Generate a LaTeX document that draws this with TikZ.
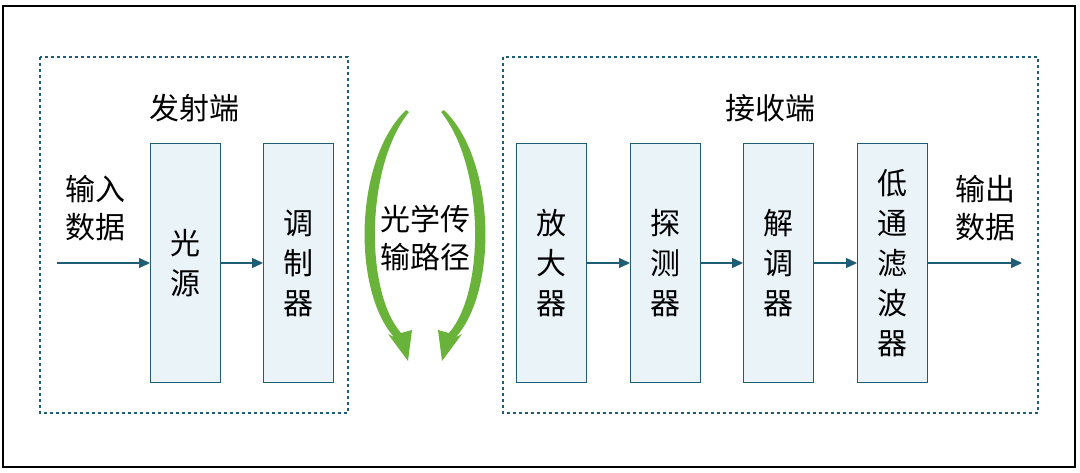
\documentclass[tikz,border=0pt]{standalone}
\usepackage{fontspec}
\newfontfamily\cjk{Noto Sans CJK SC}
\usetikzlibrary{arrows.meta}
\definecolor{boxfill}{HTML}{E9F3F8}
\definecolor{boxline}{HTML}{1F5C75}
\definecolor{grn}{HTML}{6AB33A}
\begin{document}
\begin{tikzpicture}[x=1pt,y=-1pt,
  blk/.style={draw=boxline,fill=boxfill,line width=1pt,minimum width=70pt,minimum height=239pt,anchor=north west,inner sep=0pt,align=center,font=\cjk\fontsize{30}{40}\selectfont},
  grp/.style={draw=boxline,dashed,line width=1.3pt},
  arr/.style={-{Triangle[length=11pt,width=10pt]},draw=boxline,line width=1.3pt},
  lbl/.style={font=\cjk\fontsize{30}{38}\selectfont,align=center}]
\useasboundingbox (0,0) rectangle (1080,472);
\draw[line width=1.2pt] (3,6) rectangle (1075,467);
\draw[grp] (40,57) rectangle (348,413);
\draw[grp] (503,57) rectangle (1038,413);
\node[lbl] (tx) at (194,108) {发射端};
\node[lbl] (rx) at (770,108) {接收端};
\node[blk] (a) at (150,143) {光\\源};
\node[blk] (b) at (263,143) {调\\制\\器};
\node[blk] (c) at (516,143) {放\\大\\器};
\node[blk] (d) at (630,143) {探\\测\\器};
\node[blk] (e) at (743,143) {解\\调\\器};
\node[blk] (f) at (857,143) {低\\通\\滤\\波\\器};
\node[lbl] (in) at (95,208) {输入\\数据};
\node[lbl] (out) at (985,208) {输出\\数据};
\coordinate (i0) at (57,263);
\coordinate (o1) at (1022,263);
\draw[arr] (i0) -- (a.west|-i0);
\draw[arr] (a.east|-i0) -- (b.west|-i0);
\draw[arr] (c.east|-i0) -- (d.west|-i0);
\draw[arr] (d.east|-i0) -- (e.west|-i0);
\draw[arr] (e.east|-i0) -- (f.west|-i0);
\draw[arr] (f.east|-i0) -- (o1);
\node[lbl] (p) at (425,238) {光学传\\输路径};
% left green arrow
\fill[grn] (406,110) -- (409,112) .. controls (366,165) and (364,290) .. (401,333)
  -- (412,330) -- (408,361) -- (388,334) -- (394,337)
  .. controls (352,290) and (354,160) .. (406,110) -- cycle;
% right green arrow
\fill[grn] (444,110) -- (441,112) .. controls (484,165) and (486,290) .. (449,333)
  -- (438,330) -- (442,361) -- (462,334) -- (456,337)
  .. controls (498,290) and (496,160) .. (444,110) -- cycle;
\end{tikzpicture}
\end{document}
